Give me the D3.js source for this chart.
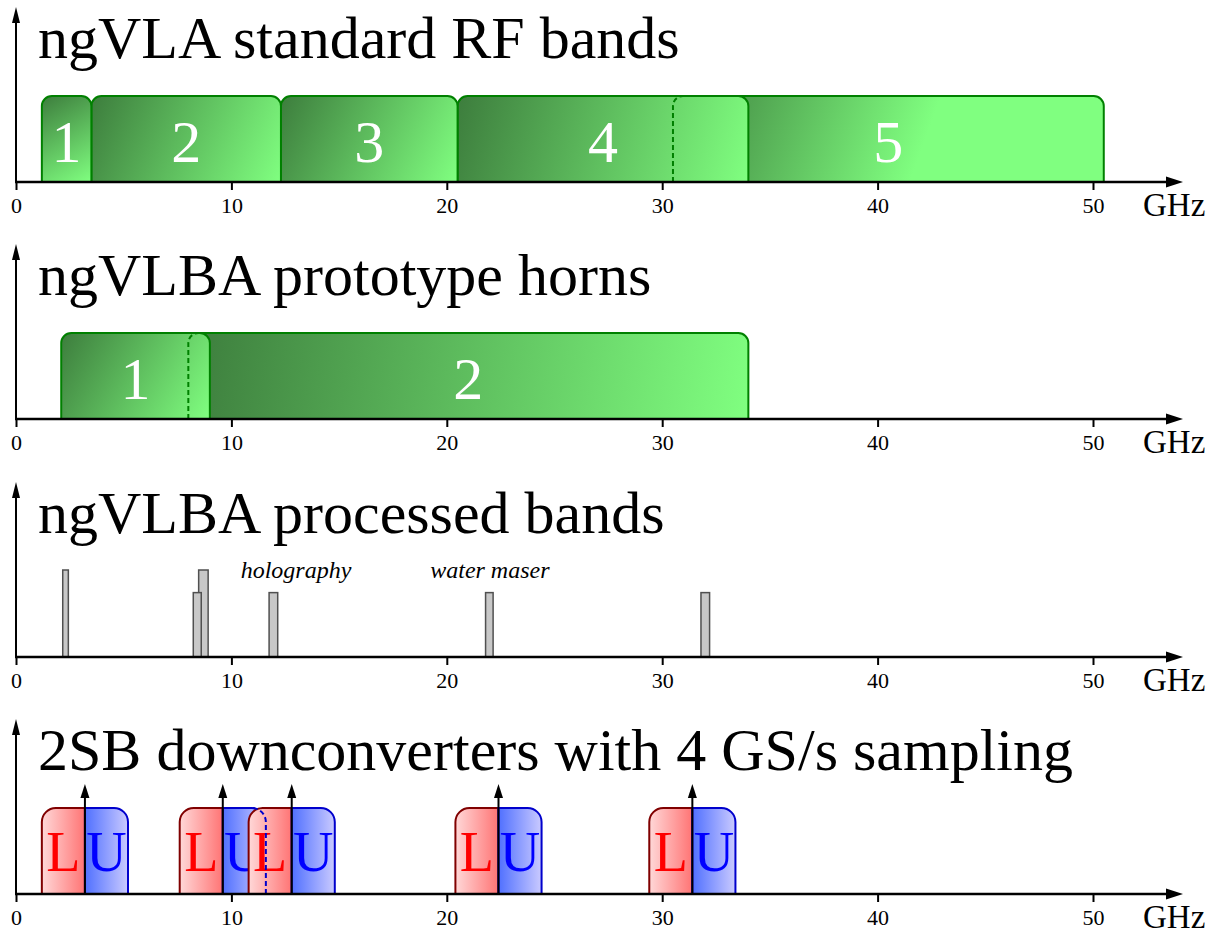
<!DOCTYPE html>
<html>
<head>
<meta charset="utf-8">
<script src="https://cdn.jsdelivr.net/npm/d3@7"></script>
<style>body{margin:0;background:#fff;}</style>
</head>
<body>
<svg width="1222" height="930"></svg>
<script>
// ---- data ----
const ticks = [0, 10, 20, 30, 40, 50];
const titles = ["ngVLA standard RF bands", "ngVLBA prototype horns",
                "ngVLBA processed bands", "2SB downconverters with 4 GS/s sampling"];

// GHz ranges
const rfBands = [
  {label: "1", lo: 1.2, hi: 3.5},
  {label: "2", lo: 3.5, hi: 12.3},
  {label: "3", lo: 12.3, hi: 20.5},
  {label: "4", lo: 20.5, hi: 34},
  {label: "5", lo: 30.5, hi: 50.5}
];
const hornBands = [
  {label: "1", lo: 2.1, hi: 9},
  {label: "2", lo: 8, hi: 34}
];
// processed sub-bands, level = relative height
const processed = [
  {lo: 2.17, hi: 2.43, level: 1},
  {lo: 8.48, hi: 8.92, level: 1},
  {lo: 8.23, hi: 8.6, level: 0.74},
  {lo: 11.75, hi: 12.15, level: 0.74},
  {lo: 21.8, hi: 22.15, level: 0.74},
  {lo: 31.8, hi: 32.2, level: 0.74}
];
const notes = [
  {text: "holography", f: 13},
  {text: "water maser", f: 22}
];
const loFreqs = [3.2, 9.6, 12.8, 22.4, 31.4];
const sideband = 2; // GHz each side (4 GS/s)

// ---- setup ----
const svg = d3.select('svg');
const defs = svg.append('defs');
const serif = '"Liberation Serif", "Times New Roman", Times, serif';

const x = d3.scaleLinear().domain([0, 50]).range([16, 1093]);
const firstAxis = 182, axisStep = 237.3;

function grad(id, x1, y1, x2, y2, stops, units) {
  const lg = defs.append('linearGradient').attr('id', id)
    .attr('x1', x1).attr('y1', y1).attr('x2', x2).attr('y2', y2);
  if (units) lg.attr('gradientUnits', units);
  stops.forEach(s => lg.append('stop').attr('offset', s[0]).attr('stop-color', s[1]));
}

function topRounded(x0, x1, top, rl, rr) {
  let p = `M${x0},0 L${x0},${top + rl}`;
  if (rl) p += ` A${rl},${rl} 0 0 1 ${x0 + rl},${top}`;
  p += ` L${x1 - rr},${top}`;
  if (rr) p += ` A${rr},${rr} 0 0 1 ${x1},${top + rr}`;
  p += ` L${x1},0 Z`;
  return p;
}

function panel(i) {
  const y0 = Math.round(firstAxis + i * axisStep);
  const g = svg.append('g').attr('transform', `translate(0,${y0})`);

  g.append('text')
    .attr('x', 38).attr('y', -124)
    .attr('font-family', serif).attr('font-size', 60)
    .text(titles[i]);

  const marks = g.append('g');

  // y axis
  g.append('line').attr('x1', 16).attr('x2', 16).attr('y1', 0).attr('y2', -162)
    .attr('stroke', 'black').attr('stroke-width', 2);
  g.append('path').attr('d', 'M16,-175 L12,-159 L20,-159 Z').attr('fill', 'black');

  // x axis
  const ax = g.append('g').call(
    d3.axisBottom(x).tickValues(ticks).tickSize(8).tickSizeOuter(0).tickPadding(7));
  ax.select('.domain').remove();
  ax.selectAll('.tick line').attr('stroke-width', 2);
  ax.selectAll('.tick text').attr('font-family', serif).attr('font-size', 22);
  g.append('line').attr('x1', 15).attr('x2', 1170).attr('y1', 0).attr('y2', 0)
    .attr('stroke', 'black').attr('stroke-width', 2.5);
  g.append('path').attr('d', 'M1183,0 L1166,-5.5 L1166,5.5 Z').attr('fill', 'black');
  g.append('text').attr('x', 1143).attr('y', 34)
    .attr('font-family', serif).attr('font-size', 33).text('GHz');

  return marks;
}

// ---- green band panels ----
function greenPanel(i, bands, spans) {
  const marks = panel(i);
  const y = d3.scaleLinear().domain([0, 1]).range([0, -86]);
  const r = 10, top = y(1);
  bands.forEach((b, j) => {
    const x0 = x(b.lo), w = (x(b.hi) - x0) * (spans[b.label] || 1);
    grad(`gb${i}_${j}`, x0, top, x0 + w, 0,
         [[0, '#3d7d3d'], [1, '#80ff80']], 'userSpaceOnUse');
  });
  // later bands sit behind earlier ones
  const order = bands.map((b, j) => j).reverse();
  order.forEach(j => {
    const b = bands[j];
    marks.append('path')
      .attr('d', topRounded(x(b.lo), x(b.hi), top, r, r))
      .attr('fill', `url(#gb${i}_${j})`)
      .attr('stroke', '#008000').attr('stroke-width', 2);
  });
  bands.forEach(b => {
    marks.append('text')
      .attr('x', x((b.lo + b.hi) / 2)).attr('y', -20)
      .attr('text-anchor', 'middle').attr('fill', 'white')
      .attr('font-family', serif).attr('font-size', 60)
      .text(b.label);
  });
  // hidden left edge of overlapped bands
  bands.forEach((b, j) => {
    if (j > 0 && b.lo < bands[j - 1].hi) {
      const x0 = x(b.lo);
      marks.append('path')
        .attr('d', `M${x0},0 L${x0},${top + r} A${r},${r} 0 0 1 ${x0 + r},${top}`)
        .attr('fill', 'none').attr('stroke', '#008000').attr('stroke-width', 2)
        .attr('stroke-dasharray', '5,3');
    }
  });
}

greenPanel(0, rfBands, {"5": 0.55});
greenPanel(1, hornBands, {});

// ---- processed bands ----
{
  const marks = panel(2);
  const y = d3.scaleLinear().domain([0, 1]).range([0, -87]);
  marks.selectAll('rect').data(processed).join('rect')
    .attr('x', d => x(d.lo)).attr('width', d => x(d.hi) - x(d.lo))
    .attr('y', d => y(d.level)).attr('height', d => -y(d.level))
    .attr('fill', '#c8c8c8').attr('stroke', '#505050').attr('stroke-width', 1.5);
  marks.selectAll('text.note').data(notes).join('text')
    .attr('class', 'note')
    .attr('x', d => x(d.f)).attr('y', -79)
    .attr('text-anchor', 'middle').attr('font-family', serif)
    .attr('font-style', 'italic').attr('font-size', 24)
    .text(d => d.text);
}

// ---- 2SB downconverters ----
{
  const marks = panel(3);
  const y = d3.scaleLinear().domain([0, 1]).range([0, -86]);
  const r = 14;
  grad('lsb', 0, 0, 1, 0, [[0, '#ffd8d8'], [1, '#ff7474']]);
  grad('usb', 0, 0, 1, 0, [[0, '#5070ff'], [1, '#cacaff']]);
  const top = y(1);
  loFreqs.forEach(lo => {
    marks.append('path')
      .attr('d', topRounded(x(lo - sideband), x(lo), top, r, 0))
      .attr('fill', 'url(#lsb)').attr('stroke', '#800000').attr('stroke-width', 2);
    marks.append('path')
      .attr('d', topRounded(x(lo), x(lo + sideband), top, 0, r))
      .attr('fill', 'url(#usb)').attr('stroke', '#0000cc').attr('stroke-width', 2);
    marks.append('text')
      .attr('x', x(lo - sideband / 2)).attr('y', -23)
      .attr('text-anchor', 'middle').attr('fill', '#ff0000')
      .attr('font-family', serif).attr('font-size', 56).text('L');
    marks.append('text')
      .attr('x', x(lo + sideband / 2)).attr('y', -23)
      .attr('text-anchor', 'middle').attr('fill', '#0000ff')
      .attr('font-family', serif).attr('font-size', 56).text('U');
  });
  // hidden right edge of an upper sideband overlapped by the next lower one
  loFreqs.forEach((lo, j) => {
    const next = loFreqs[j + 1];
    if (next !== undefined && lo + sideband > next - sideband) {
      const x1 = x(lo + sideband);
      marks.append('path')
        .attr('d', `M${x1},0 L${x1},${top + r} A${r},${r} 0 0 0 ${x1 - r},${top}`)
        .attr('fill', 'none').attr('stroke', '#0000cc').attr('stroke-width', 2)
        .attr('stroke-dasharray', '5,3');
    }
  });
  // LO arrows
  loFreqs.forEach(lo => {
    const xl = x(lo);
    marks.append('line').attr('x1', xl).attr('x2', xl).attr('y1', 0).attr('y2', -98)
      .attr('stroke', 'black').attr('stroke-width', 2);
    marks.append('path').attr('d', `M${xl},-110 L${xl - 4.5},-96 L${xl + 4.5},-96 Z`)
      .attr('fill', 'black');
  });
}
</script>
</body>
</html>
